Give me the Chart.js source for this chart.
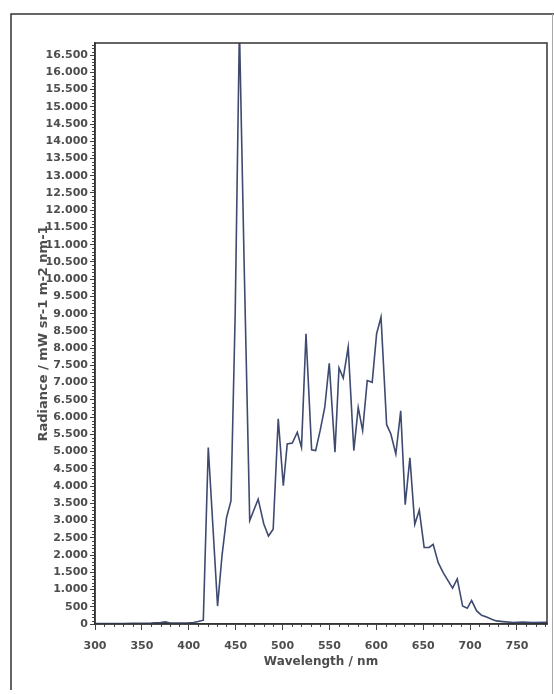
<!DOCTYPE html>
<html>
<head>
<meta charset="utf-8">
<script src="https://cdn.jsdelivr.net/npm/chart.js@4.4.1/dist/chart.umd.min.js"></script>
<style>
  html, body { margin: 0; padding: 0; background: #fff; }
  #wrap { position: relative; width: 554px; height: 694px; }
</style>
</head>
<body>
<div id="wrap"><canvas id="chart" width="554" height="694"></canvas></div>
<script>
// spectrum (nm, mW sr-1 m-2 nm-1)
var wavelengths = [300, 310, 320, 330, 340, 350, 360, 370, 375, 380, 390, 400, 405, 410, 415.5,
  420.8, 430.7, 435.5, 440.3, 445, 449.5, 454, 459, 465, 474, 480, 485, 490,
  495.4, 500.8, 505, 510.4, 515.7, 520.2, 525, 531, 535.3, 540, 545, 549.8,
  555.9, 560.2, 564.7, 570, 576, 580.7, 585.4, 590.3, 595.6, 600.3, 605,
  611, 615.5, 620.8, 626, 630.8, 635.8, 641, 645.8, 651, 656.3, 660.6, 666,
  671.3, 676.6, 681.3, 686.3, 692, 696.9, 701.6, 707, 712.3, 717.6, 723, 728,
  735, 746, 756, 767, 782];
var radiance = [10, 10, 15, 15, 20, 20, 25, 40, 60, 30, 30, 35, 45, 70, 110,
  5120, 520, 2000, 3090, 3570, 9000, 17300, 10500, 3000, 3620, 2900, 2550, 2750,
  5950, 4010, 5220, 5250, 5560, 5120, 8420, 5050, 5030, 5600, 6280, 7560,
  4980, 7430, 7130, 8030, 5030, 6280, 5610, 7060, 7010, 8420, 8900,
  5780, 5510, 4930, 6180, 3460, 4820, 2890, 3300, 2220, 2220, 2310, 1780,
  1490, 1250, 1040, 1310, 520, 455, 680, 380, 250, 205, 140, 90,
  70, 45, 55, 45, 50];

var xTicks = [300, 350, 400, 450, 500, 550, 600, 650, 700, 750];
var xMin = 300, xMax = 782;
var yMin = 0, yMax = 16850, yStep = 500;

var points = wavelengths.map(function (w, i) { return {x: w, y: radiance[i]}; });

var labelFont = {family: 'DejaVu Sans', size: 11, weight: 'bold'};
var textColor = '#4d4d4d';

// minor ticks + plot box + the outer frame of the scan
var decor = {
  id: 'decor',
  afterDraw: function (chart) {
    var ctx = chart.ctx, a = chart.chartArea;
    var xs = chart.scales.x, ys = chart.scales.y;
    ctx.save();
    ctx.strokeStyle = '#444';
    ctx.lineWidth = 1;
    ctx.beginPath();
    for (var v = 100; v < yMax; v += 100) {
      if (v % 500 === 0) continue;
      var py = Math.round(ys.getPixelForValue(v)) + 0.5;
      ctx.moveTo(a.left - 3, py);
      ctx.lineTo(a.left, py);
    }
    for (var w = 310; w < xMax; w += 10) {
      if (w % 50 === 0) continue;
      var px = Math.round(xs.getPixelForValue(w)) + 0.5;
      ctx.moveTo(px, a.bottom);
      ctx.lineTo(px, a.bottom + 3);
    }
    ctx.stroke();

    ctx.strokeStyle = '#333';
    ctx.lineWidth = 1.5;
    ctx.strokeRect(a.left, a.top, a.right - a.left, a.bottom - a.top);

    ctx.beginPath();
    ctx.moveTo(11, 690);
    ctx.lineTo(11, 14);
    ctx.lineTo(554, 14);
    ctx.stroke();
    ctx.strokeStyle = '#aaa';
    ctx.lineWidth = 1;
    ctx.beginPath();
    ctx.moveTo(552.5, 14);
    ctx.lineTo(552.5, 694);
    ctx.stroke();
    ctx.restore();
  }
};

new Chart(document.getElementById('chart'), {
  type: 'line',
  data: {
    datasets: [{
      data: points,
      borderColor: '#3e4a70',
      borderWidth: 1.6,
      pointRadius: 0,
      tension: 0,
      fill: false
    }]
  },
  options: {
    responsive: false,
    animation: false,
    layout: {padding: {left: 0, top: 43, right: 7, bottom: 0}},
    plugins: {legend: {display: false}, tooltip: {enabled: false}},
    scales: {
      x: {
        type: 'linear',
        min: xMin,
        max: xMax,
        afterBuildTicks: function (scale) {
          scale.ticks = xTicks.map(function (v) { return {value: v}; });
        },
        afterFit: function (scale) { scale.height = 70; },
        ticks: {
          font: labelFont,
          color: textColor,
          padding: 10,
          maxRotation: 0,
          autoSkip: false
        },
        grid: {drawOnChartArea: false, tickLength: 6, color: '#444'},
        border: {color: '#333', width: 1.5},
        title: {
          display: true,
          text: 'Wavelength / nm',
          font: {family: 'DejaVu Sans', size: 12, weight: 'bold'},
          color: textColor,
          padding: {top: 0, bottom: 25}
        }
      },
      y: {
        min: yMin,
        max: yMax,
        afterBuildTicks: function (scale) {
          var t = [];
          for (var v = yMin; v <= yMax; v += yStep) t.push({value: v});
          scale.ticks = t;
        },
        afterFit: function (scale) { scale.width = 95; },
        ticks: {
          font: labelFont,
          color: textColor,
          padding: 2,
          autoSkip: false,
          callback: function (v) { return v.toLocaleString('de-DE'); }
        },
        grid: {drawOnChartArea: false, tickLength: 5, color: '#444'},
        border: {color: '#333', width: 1.5},
        title: {
          display: true,
          text: 'Radiance / mW sr-1 m-2 nm-1',
          font: {family: 'DejaVu Sans', size: 13, weight: 'bold'},
          color: textColor,
          padding: {top: 36, bottom: 0}
        }
      }
    }
  },
  plugins: [decor]
});
</script>
</body>
</html>
